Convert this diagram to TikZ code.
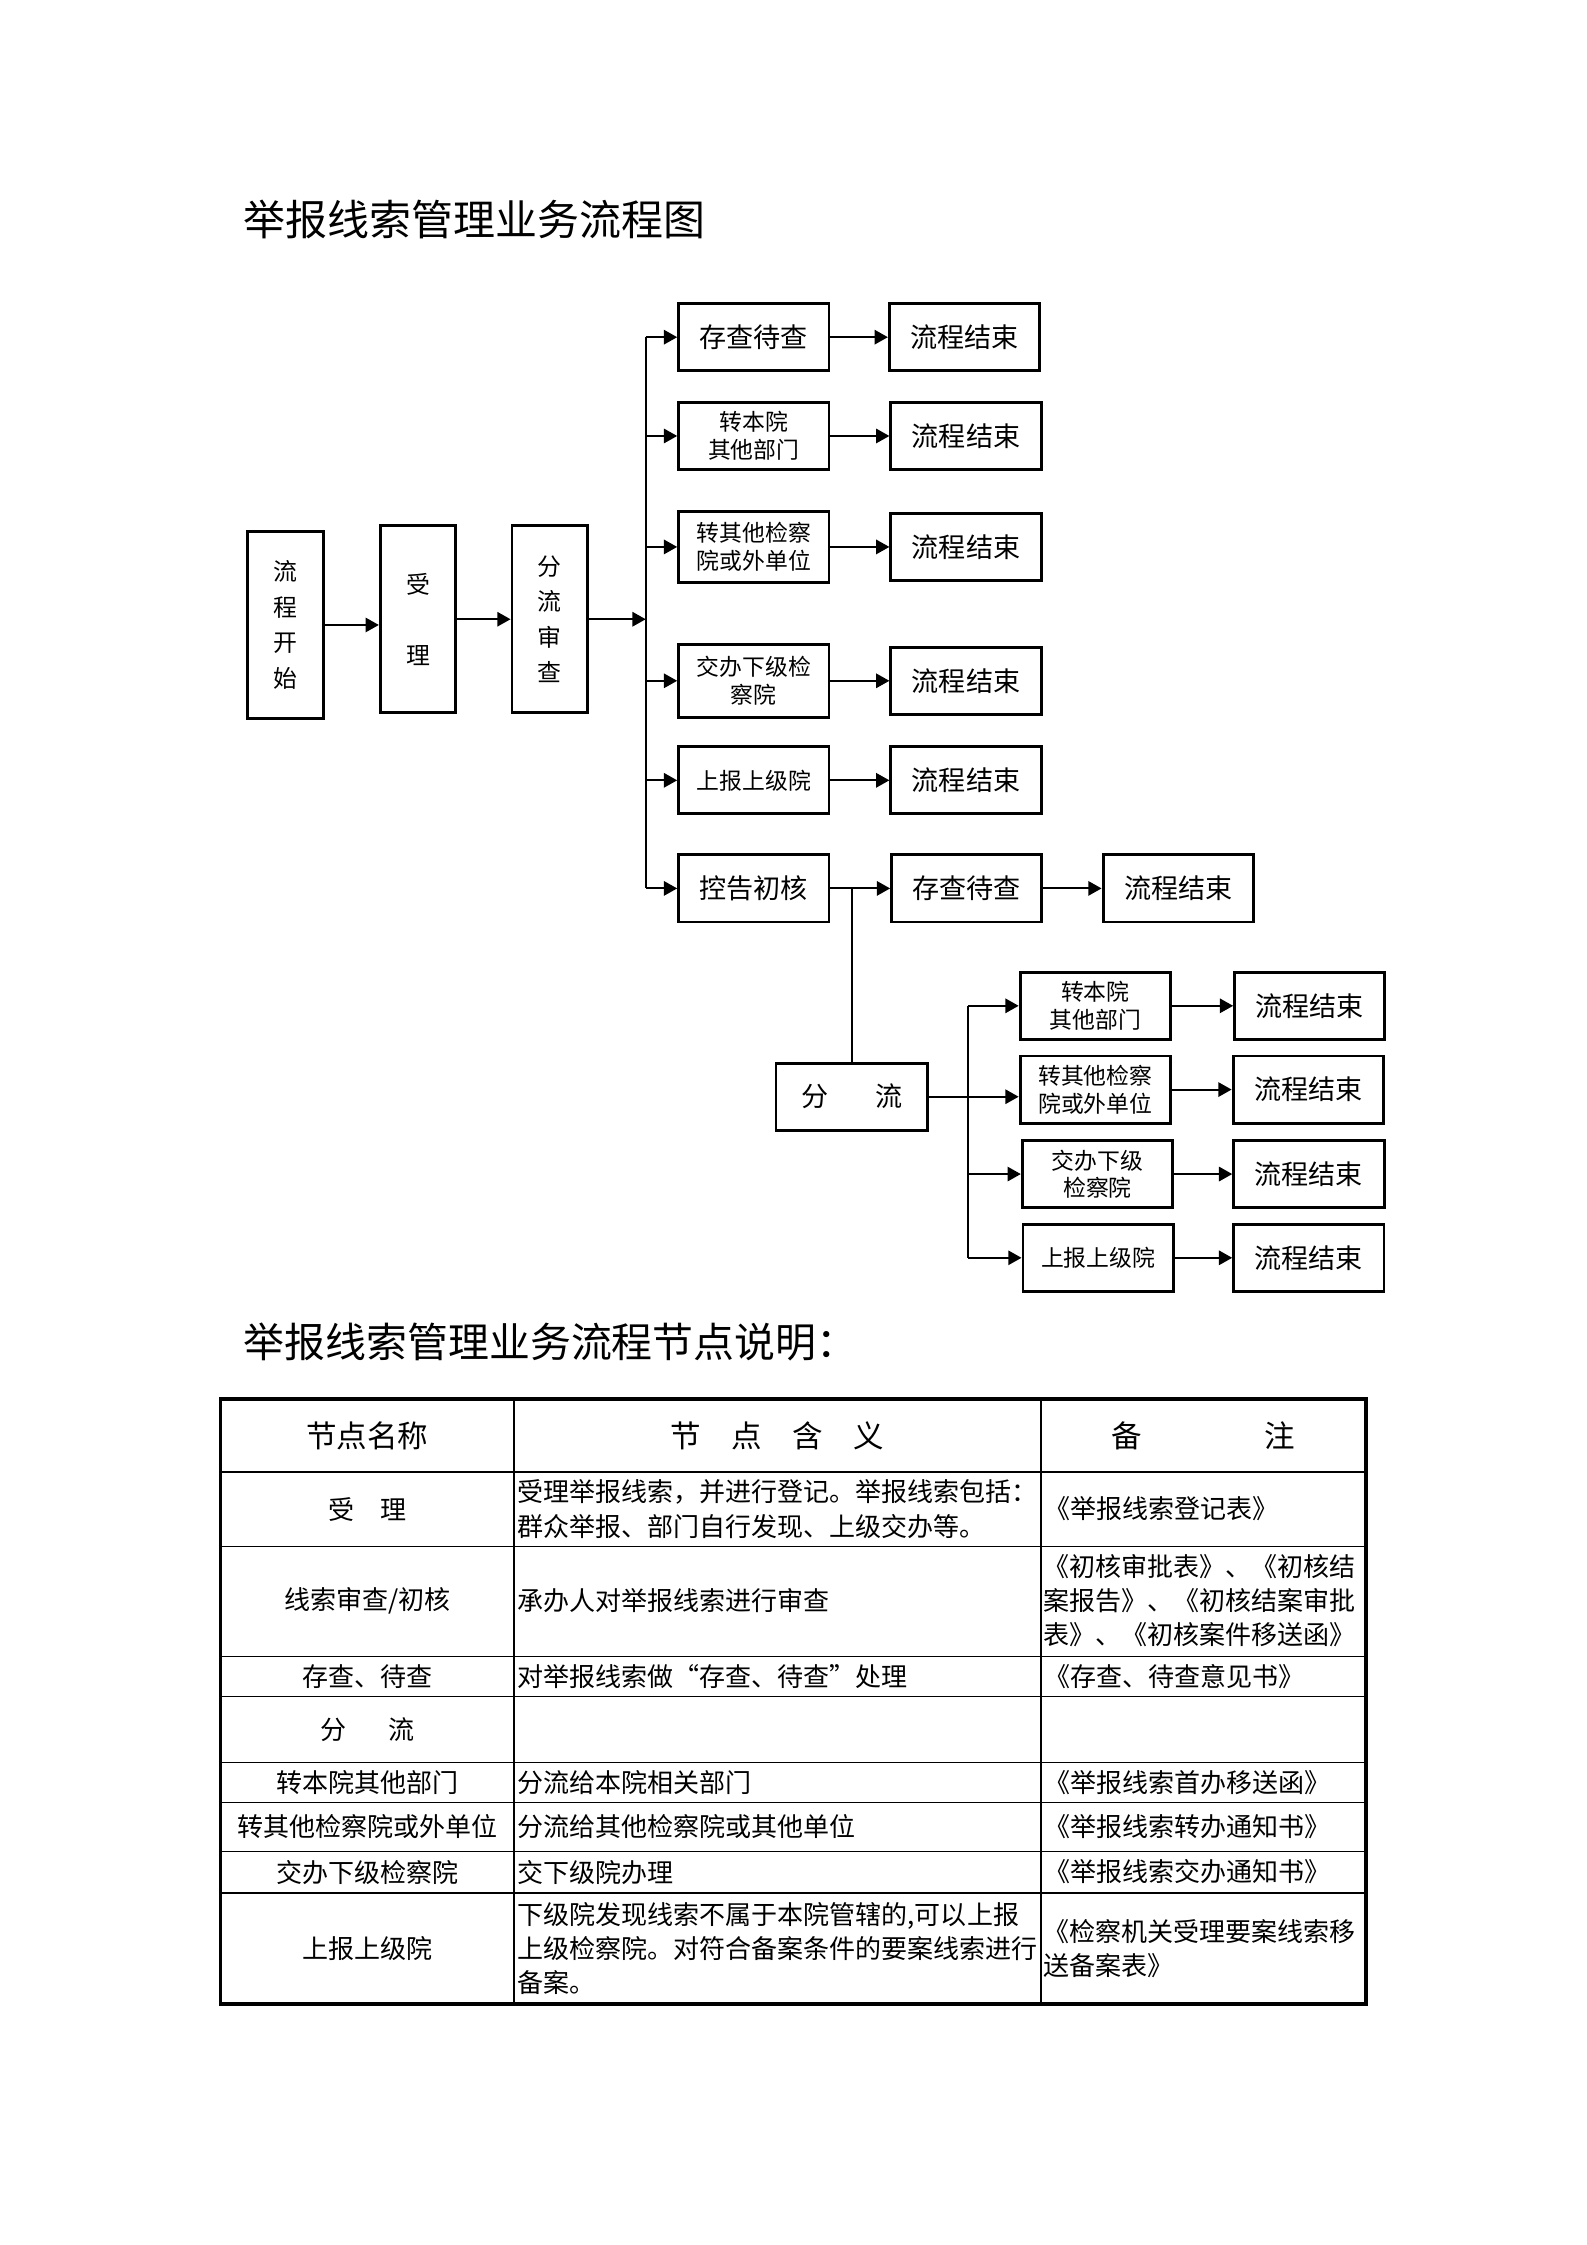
\documentclass[tikz,border=0pt]{standalone}
\usepackage{fontspec}
\setmainfont{Noto Sans CJK SC}
\usetikzlibrary{positioning, arrows.meta}

\begin{document}
\begin{tikzpicture}[x=0.018953cm, y=-0.018953cm, >={Triangle[length=5pt,width=5.4pt]}]
        \tikzstyle{box} = [rectangle, draw=black, line width=1.1pt, minimum width=1.99cm, minimum height=0.89cm, inner sep=1pt, align=center, font=\fontsize{8.6pt}{10.4pt}\selectfont]
        \tikzstyle{bigbox} = [box, font=\fontsize{10.2pt}{12pt}\selectfont]
        \tikzstyle{tallbox} = [rectangle, draw=black, line width=1.1pt, minimum width=1.0cm, minimum height=2.48cm, inner sep=1pt, align=center, font=\fontsize{9pt}{13.4pt}\selectfont]
        \tikzstyle{arrow} = [line width=0.75pt, ->]
        \tikzstyle{wire} = [line width=0.75pt]
        \tikzstyle{heading} = [anchor=west, inner sep=0pt, font=\fontsize{15.8pt}{18pt}\selectfont]
        \tikzstyle{cell} = [inner sep=0pt, font=\fontsize{9.8pt}{12.9pt}\selectfont]
        \tikzstyle{leftcell} = [cell, anchor=west, align=left]
        \tikzstyle{headcell} = [inner sep=0pt, font=\fontsize{11.5pt}{13pt}\selectfont]
        \tikzstyle{grid} = [line width=0.55pt]

        \useasboundingbox (0,0) rectangle (1108,1568);

        % Title
        \node (title) [heading] at (170,153) {举报线索管理业务流程图};

        % Start
        \node (start) [tallbox] at (199.5,436.5) {流\\程\\开\\始};
        \node (accept) [tallbox] at (292,432.5) {受\\[13.4pt]理};
        \node (review) [tallbox] at (384,432.5) {分\\流\\审\\查};
        \coordinate (trunk) at (451,432.5);

        % First split
        \node (hold) [bigbox] at (526.5,235.5) {存查待查};
        \node (dept) [box] at (526.5,304.5) {转本院\\其他部门};
        \node (other) [box, minimum height=0.95cm] at (526.5,382) {转其他检察\\院或外单位};
        \node (lower) [box, minimum height=0.96cm] at (526.5,475.5) {交办下级检\\察院};
        \node (upper) [box] at (526.5,545) {上报上级院};
        \node (check) [bigbox] at (526.5,620.5) {控告初核};

        % Ends
        \node (end1) [bigbox, right=0.76cm of hold] {流程结束};
        \node (end2) [bigbox, right=0.78cm of dept] {流程结束};
        \node (end3) [bigbox, right=0.78cm of other] {流程结束};
        \node (end4) [bigbox, right=0.78cm of lower] {流程结束};
        \node (end5) [bigbox, right=0.78cm of upper] {流程结束};
        \node (hold2) [bigbox, right=0.79cm of check] {存查待查};
        \node (end6) [bigbox, right=0.77cm of hold2] {流程结束};

        % Second split
        \node (split) [bigbox, minimum width=2.01cm] at (595,766) {分\hspace{1.74em}流};
        \coordinate (strunk) at (676,766);
        \node (sdept) [box] at (765,702.5) {转本院\\其他部门};
        \node (sother) [box] at (765,761) {转其他检察\\院或外单位};
        \node (slower) [box] at (766.5,820) {交办下级\\检察院};
        \node (supper) [box] at (767,878.5) {上报上级院};
        \node (send1) [bigbox, right=0.81cm of sdept] {流程结束};
        \node (send2) [bigbox, right=0.79cm of sother] {流程结束};
        \node (send3) [bigbox, right=0.77cm of slower] {流程结束};
        \node (send4) [bigbox, right=0.76cm of supper] {流程结束};

        % Arrows
        \draw [arrow] (start.east) -- (start.east -| accept.west);
        \draw [arrow] (accept) -- (review);
        \draw [arrow] (review) -- (trunk);
        \draw [wire] (trunk |- hold) -- (trunk |- check);
        \draw [arrow] (trunk |- hold) -- (hold);
        \draw [arrow] (trunk |- dept) -- (dept);
        \draw [arrow] (trunk |- other) -- (other);
        \draw [arrow] (trunk |- lower) -- (lower);
        \draw [arrow] (trunk |- upper) -- (upper);
        \draw [arrow] (trunk |- check) -- (check);
        \draw [arrow] (hold) -- (end1);
        \draw [arrow] (dept) -- (end2);
        \draw [arrow] (other) -- (end3);
        \draw [arrow] (lower) -- (end4);
        \draw [arrow] (upper) -- (end5);
        \draw [arrow] (check) -- (hold2);
        \draw [arrow] (hold2) -- (end6);
        \draw [wire] (split.north) -- (split.north |- check);
        \draw [arrow] (split.east) -- (split.east -| sother.west);
        \draw [wire] (strunk |- sdept) -- (strunk |- supper);
        \draw [arrow] (strunk |- sdept) -- (sdept);
        \draw [arrow] (strunk |- slower) -- (slower);
        \draw [arrow] (strunk |- supper) -- (supper);
        \draw [arrow] (sdept) -- (send1);
        \draw [arrow] (sother) -- (send2);
        \draw [arrow] (slower) -- (send3);
        \draw [arrow] (supper) -- (send4);

        % Table
        \node (title2) [heading, font=\fontsize{15.4pt}{18pt}\selectfont] at (170,937) {举报线索管理业务流程节点说明：};
        \draw [line width=1.5pt] (154,977) rectangle (954,1400);
        \draw [grid] (359,977) -- (359,1400);
        \draw [grid] (727,977) -- (727,1400);
        \draw [grid] (154,1028) -- (954,1028);
        \draw [grid] (154,1080) -- (954,1080);
        \draw [grid] (154,1157) -- (954,1157);
        \draw [grid] (154,1185) -- (954,1185);
        \draw [grid] (154,1231) -- (954,1231);
        \draw [grid] (154,1259) -- (954,1259);
        \draw [grid] (154,1293) -- (954,1293);
        \draw [grid] (154,1322) -- (954,1322);

        \node (hname) [headcell] at (256.5,1003) {节点名称};
        \node (hmean) [headcell] at (543,1003) {节　点　含　义};
        \node (hnote) [headcell] at (840.5,1003) {备　　　　注};

        \node (nameA) [cell] at (256.5,1054) {受　理};
        \node (meanA) [leftcell] at (361,1054) {受理举报线索，并进行登记。举报线索包括：\\群众举报、部门自行发现、上级交办等。};
        \node (noteA) [leftcell] at (729,1054) {《举报线索登记表》};

        \node (nameB) [cell] at (256.5,1118) {线索审查/初核};
        \node (meanB) [leftcell] at (361,1118) {承办人对举报线索进行审查};
        \node (noteB) [leftcell] at (728.5,1118) {《初核审批表》、《初核结\\案报告》、《初核结案审批\\表》、《初核案件移送函》};

        \node (nameC) [cell] at (256.5,1171) {存查、待查};
        \node (meanC) [leftcell] at (361,1171) {对举报线索做“存查、待查”处理};
        \node (noteC) [leftcell] at (729,1171) {《存查、待查意见书》};

        \node (nameD) [cell] at (256.5,1208) {分\hspace{1.6em}流};

        \node (nameE) [cell] at (256.5,1245) {转本院其他部门};
        \node (meanE) [leftcell] at (361,1245) {分流给本院相关部门};
        \node (noteE) [leftcell] at (729,1245) {《举报线索首办移送函》};

        \node (nameF) [cell] at (256.5,1276) {转其他检察院或外单位};
        \node (meanF) [leftcell] at (361,1276) {分流给其他检察院或其他单位};
        \node (noteF) [leftcell] at (729,1276) {《举报线索转办通知书》};

        \node (nameG) [cell] at (256.5,1307.5) {交办下级检察院};
        \node (meanG) [leftcell] at (361,1307.5) {交下级院办理};
        \node (noteG) [leftcell] at (729,1307.5) {《举报线索交办通知书》};

        \node (nameH) [cell] at (256.5,1361) {上报上级院};
        \node (meanH) [leftcell] at (361,1361) {下级院发现线索不属于本院管辖的,可以上报\\上级检察院。对符合备案条件的要案线索进行\\备案。};
        \node (noteH) [leftcell] at (728.5,1361) {《检察机关受理要案线索移\\送备案表》};
\end{tikzpicture}
\end{document}
